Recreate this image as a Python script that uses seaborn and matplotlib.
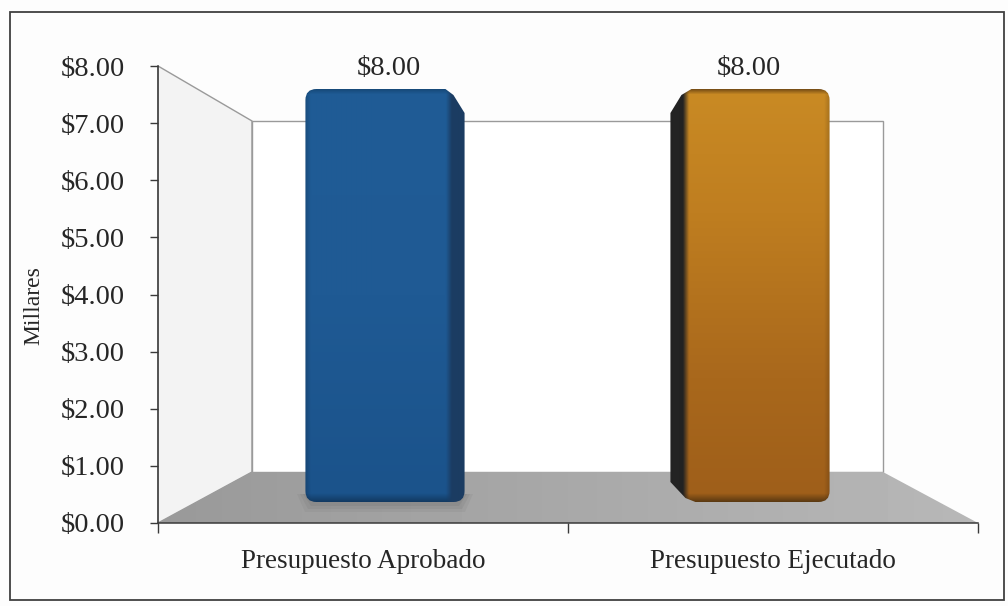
import numpy as np
import pandas as pd
import matplotlib
matplotlib.use('Agg')
import matplotlib.pyplot as plt
from matplotlib.colors import to_rgb
from matplotlib.patches import Polygon, PathPatch, Rectangle
from matplotlib.path import Path
import seaborn as sns

# --- data ---
categories = ['Presupuesto Aprobado', 'Presupuesto Ejecutado']
values = [8.0, 8.0]
y_ticks = [0, 1, 2, 3, 4, 5, 6, 7, 8]
y_tick_labels = ['$0.00', '$1.00', '$2.00', '$3.00', '$4.00', '$5.00', '$6.00', '$7.00', '$8.00']
bar_labels = ['$8.00', '$8.00']
y_title = 'Millares'

W, H = 1008, 606
FONT = 'Liberation Serif'
LINE = '#9a9a9a'
DARK = '#3a3a3a'
INK = '#262626'

sns.set_theme(style='white')
plt.rcParams['font.family'] = [FONT, 'DejaVu Sans']
plt.rcParams['text.parse_math'] = False


def px_axes(fig, x0, x1, y_top, y_bot):
    return fig.add_axes([x0 / W, 1 - y_bot / H, (x1 - x0) / W, (y_bot - y_top) / H])


def shade_bar(ax, stops, side_col, side_x, extent, clip):
    # vertical colour ramp, darker side face and soft edges, clipped to the outline
    x0, x1, y0, y1 = extent
    n_y, n_x = int(round(y1 - y0)), int(round(x1 - x0))
    pos, cols = zip(*stops)
    cols = np.array([to_rgb(c) for c in cols])
    t = np.linspace(0, 1, n_y)
    ramp = np.stack([np.interp(t, pos, cols[:, i]) for i in range(3)], axis=1)
    img = np.repeat(ramp[:, None, :], n_x, axis=1)
    xs = np.arange(n_x) + x0 + 0.5
    side = np.array(to_rgb(side_col))
    # how far each column is inside the side face (1) or the front face (0)
    inside = np.interp(xs, [side_x[0] - 4, side_x[0] + 2, side_x[1] - 2, side_x[1] + 4], [0, 1, 1, 0])
    # front face gets a little darker towards its free edge
    edge = np.minimum(xs - x0, x1 - xs)
    dim = np.interp(edge, [0, 6], [0.82, 1.0])
    img = img * dim[None, :, None]
    img = img * (1 - inside[None, :, None]) + side[None, None, :] * inside[None, :, None]
    im = ax.imshow(img, extent=(x0, x1, y1, y0), aspect='auto', zorder=3, interpolation='bilinear')
    im.set_clip_path(clip)


def bar_outline(x0, x1, y0, y1, front0, front1, r=11):
    # rounded box with the side face cut back at its corners
    left_cut = front0 > x0 + 2
    right_cut = front1 < x1 - 2
    v, c = [], []
    if left_cut:
        v += [(x0, y0 + 24), (front0 - 4, y0 + 6), (front0 + 6, y0)]
        c += [Path.MOVETO, Path.LINETO, Path.LINETO]
    else:
        v += [(x0, y0 + r), (x0, y0), (x0 + r, y0)]
        c += [Path.MOVETO, Path.CURVE3, Path.CURVE3]
    if right_cut:
        v += [(front1 - 4, y0), (front1 + 4, y0 + 6), (x1, y0 + 24)]
        c += [Path.LINETO, Path.LINETO, Path.LINETO]
    else:
        v += [(x1 - r, y0), (x1, y0), (x1, y0 + r)]
        c += [Path.LINETO, Path.CURVE3, Path.CURVE3]
    v += [(x1, y1 - r), (x1, y1), (x1 - r, y1)]
    c += [Path.LINETO, Path.CURVE3, Path.CURVE3]
    if left_cut:
        v += [(front0 + 10, y1), (front0, y1 - 4), (x0, y1 - 20)]
        c += [Path.LINETO, Path.LINETO, Path.LINETO]
    else:
        v += [(x0 + r, y1), (x0, y1), (x0, y1 - r)]
        c += [Path.LINETO, Path.CURVE3, Path.CURVE3]
    v += [v[0]]
    c += [Path.CLOSEPOLY]
    return Path(v, c)


fig = plt.figure(figsize=(W / 100, H / 100), dpi=100, facecolor='#fdfdfd')

# --- backdrop: frame, walls and floor in pixel coordinates ---
bg = fig.add_axes([0, 0, 1, 1], zorder=0)
bg.axis('off')
bg.add_patch(Rectangle((10, 12), 994, 588, fc='#fdfdfd', ec='#404040', lw=1.3))
bg.add_patch(Polygon([(158, 66), (252, 121), (252, 472), (158, 523)], closed=True,
                     fc='#f3f3f3', ec=LINE, lw=1))
bg.add_patch(Rectangle((252, 121), 631, 351, fc='#ffffff', ec=LINE, lw=1))
floor = Polygon([(158, 523), (252, 472), (883, 472), (978, 523)], closed=True, fc='none', ec='none')
bg.add_patch(floor)
floor_img = np.linspace(0.60, 0.72, 256).reshape(1, -1)
im = bg.imshow(floor_img, extent=(158, 978, 523, 472), aspect='auto', cmap='gray', vmin=0, vmax=1, zorder=2)
im.set_clip_path(floor)
for grow, alpha in zip([9, 6, 3], [0.12, 0.16, 0.2]):
    bg.add_patch(Polygon([(306 - grow, 494), (464 + grow, 494), (456 + grow, 503 + grow), (314 - grow, 503 + grow)],
                         closed=True, fc='#6f6f6f', ec='none', alpha=alpha, zorder=2.5))
bg.set_xlim(0, W)
bg.set_ylim(H, 0)

# --- axis with ticks and labels ---
ax = px_axes(fig, 158, 978, 66, 523)
ax.set_zorder(1)
ax.patch.set_alpha(0)
ax.set_xlim(-0.5, 1.5)
ax.set_ylim(0, 8)
for s in ['top', 'right']:
    ax.spines[s].set_visible(False)
for s in ['left', 'bottom']:
    ax.spines[s].set_color(DARK)
    ax.spines[s].set_linewidth(1.1)
ax.set_yticks(y_ticks)
ax.set_yticklabels(y_tick_labels, fontsize=20.5, color=INK)
ax.set_xticks([0, 1])
ax.set_xticklabels(categories, fontsize=19.5, color=INK)
ax.set_xticks([-0.5, 0.5, 1.5], minor=True)
ax.tick_params(axis='y', length=6, width=1, color=DARK, pad=18, left=True)
ax.tick_params(axis='x', which='major', length=0, pad=18.5)
ax.tick_params(axis='x', which='minor', length=7, width=1, color=DARK, bottom=True)
ax.set_ylabel(y_title, fontsize=17, color=INK)
ax.yaxis.set_label_coords(-0.138, 0.475)

# --- bars sit on a plane set back from the axis ---
ax_bars = px_axes(fig, 202.5, 932.5, 89, 502)
ax_bars.set_zorder(2)
ax_bars.patch.set_alpha(0)
df = pd.DataFrame({'categoria': categories, 'valor': values})
sns.barplot(data=df, x='categoria', y='valor', hue='categoria', dodge=False, width=0.436,
            palette=['#1f5b93', '#b9771f'], legend=False, ax=ax_bars)
ax_bars.set_xlim(-0.5, 1.5)
ax_bars.set_ylim(0, 8)
ax_bars.axis('off')
for cont, lab, nudge in zip(ax_bars.containers, bar_labels, [3, -1]):
    ann = ax_bars.bar_label(cont, labels=[lab], fontsize=20.5, color=INK, padding=6, clip_on=False)[0]
    ann.xyann = (nudge, 6)
    cont[0].set_visible(False)

# --- shaded 3D look, using the bar positions seaborn worked out ---
top = fig.add_axes([0, 0, 1, 1], zorder=3)
top.patch.set_alpha(0)
top.axis('off')
fig.canvas.draw()
looks = [
    dict(stops=[(0, '#174a7a'), (0.012, '#1f5c96'), (0.5, '#1f5a94'), (0.98, '#1b538b'), (1, '#123a63')],
         side='#1b3c62', face=(0, 144)),
    dict(stops=[(0, '#7a5016'), (0.012, '#c98a24'), (0.3, '#bf7e20'), (0.7, '#a9681c'), (0.98, '#9f5f1a'), (1, '#5c3a12')],
         side='#232323', face=(15, 159)),
]
for cont, look in zip(ax_bars.containers, looks):
    box = cont[0].get_window_extent()
    x0, x1, y0, y1 = box.x0, box.x1, H - box.y1, H - box.y0
    f0, f1 = x0 + look['face'][0], x0 + look['face'][1]
    clip = PathPatch(bar_outline(x0, x1, y0, y1, f0, f1), fc='none', ec='none', transform=top.transData)
    top.add_patch(clip)
    side_x = (x0 - 8, f0) if f0 > x0 + 2 else (f1, x1 + 8)
    shade_bar(top, look['stops'], look['side'], side_x, (x0, x1, y0, y1), clip)
top.set_xlim(0, W)
top.set_ylim(H, 0)

fig.savefig('out.png', dpi=100, facecolor=fig.get_facecolor())
